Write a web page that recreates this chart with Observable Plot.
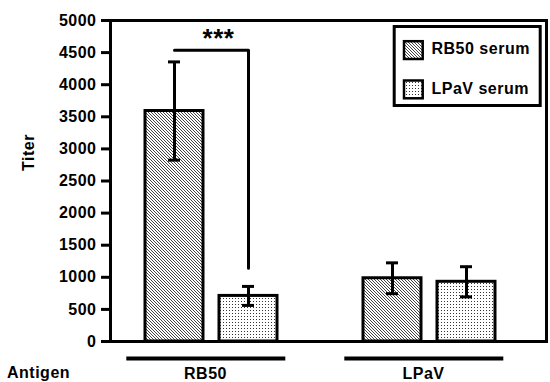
<!DOCTYPE html>
<html><head><meta charset="utf-8">
<script src="https://cdn.jsdelivr.net/npm/d3@7"></script>
<script src="https://cdn.jsdelivr.net/npm/@observablehq/plot@0.6"></script>
<style>
html,body{margin:0;padding:0;background:#fff;}
#wrap{position:relative;width:550px;height:382px;}
#wrap svg{display:block;}
#legend{position:absolute;left:0;top:0;pointer-events:none;}
</style></head><body><div id="wrap"></div>
<script>
// ---- data ----
const antigens = ["RB50", "LPaV"];
const sera = ["RB50 serum", "LPaV serum"];
const titerRB50Serum = [3590, 985];   // per antigen
const titerLPaVSerum = [710, 930];
const errRB50Serum = [765, 240];
const errLPaVSerum = [148, 235];
const yTicks = [0, 500, 1000, 1500, 2000, 2500, 3000, 3500, 4000, 4500, 5000];
const significance = "***";
const bracketTop = 4535;
const bracketBottom = 1140;
const yLabel = "Titer";
const xLabel = "Antigen";

const rows = [];
antigens.forEach((a, i) => {
  rows.push({antigen: a, serum: sera[0], titer: titerRB50Serum[i], err: errRB50Serum[i]});
  rows.push({antigen: a, serum: sera[1], titer: titerLPaVSerum[i], err: errLPaVSerum[i]});
});
const bracket = [
  {antigen: antigens[0], serum: sera[0], titer: bracketTop},
  {antigen: antigens[0], serum: sera[1], titer: bracketTop},
  {antigen: antigens[0], serum: sera[1], titer: bracketBottom}
];

const chart = Plot.plot({
  width: 550, height: 382,
  marginLeft: 110, marginRight: 4, marginTop: 20, marginBottom: 41,
  style: {fontFamily: "'Liberation Sans', Arial, sans-serif", fontWeight: "bold", fontSize: "16px",
          letterSpacing: "0.5px", color: "#000", background: "#fff", overflow: "visible"},
  y: {domain: [0, 5000]},
  fx: {domain: antigens, paddingInner: 0, paddingOuter: 0, align: 0},
  x: {domain: sera, paddingInner: 0.2225, paddingOuter: 0.5724, align: 0.41, axis: null},
  color: {domain: sera, range: ["url(#hatch)", "url(#dots)"]},
  marks: [
    Plot.barY(rows, {fx: "antigen", x: "serum", y: "titer", fill: "serum", stroke: "#000", strokeWidth: 3}),
    Plot.ruleX(rows, {fx: "antigen", x: "serum", y1: d => d.titer - d.err, y2: d => d.titer + d.err, stroke: "#000", strokeWidth: 3}),
    Plot.tickY(rows, {fx: "antigen", x: "serum", y: d => d.titer + d.err, stroke: "#000", strokeWidth: 3, insetLeft: 23, insetRight: 23}),
    Plot.tickY(rows, {fx: "antigen", x: "serum", y: d => d.titer - d.err, stroke: "#000", strokeWidth: 3, insetLeft: 23, insetRight: 23}),
    Plot.line(bracket, {fx: "antigen", x: "serum", y: "titer", stroke: "#000", strokeWidth: 3}),
    Plot.text([significance], {fx: () => antigens[0], frameAnchor: "top", lineAnchor: "top", dy: 8, dx: -1, fontSize: 26, letterSpacing: "2px"}),
    Plot.ruleY(antigens, {fx: d => d, y: () => 0, dy: 17, stroke: "#000", strokeWidth: 4, insetLeft: 16.3, insetRight: 42.7}),
    Plot.axisFx({anchor: "bottom", tickSize: 0, tickPadding: 26, label: null, fontSize: 16, dx: -14}),
    Plot.axisY({ticks: yTicks, tickFormat: d => String(d), tickSize: 9, tickPadding: 5, strokeWidth: 3, label: null, fontSize: 16}),
    Plot.frame({facet: "super", stroke: "#000", strokeWidth: 3})
  ]
});

// patterns
const defs = d3.select(chart).insert("defs", ":first-child");
const hatch = defs.append("pattern").attr("id", "hatch").attr("patternUnits", "userSpaceOnUse")
  .attr("width", 3).attr("height", 3);
hatch.append("rect").attr("width", 3).attr("height", 3).attr("fill", "#fff");
hatch.append("path").attr("d", "M-1,-1L4,4M-1,2L1,4M2,-1L4,1").attr("stroke", "#222").attr("stroke-width", 0.85);
const dots = defs.append("pattern").attr("id", "dots").attr("patternUnits", "userSpaceOnUse")
  .attr("width", 3).attr("height", 3);
dots.append("rect").attr("width", 3).attr("height", 3).attr("fill", "#fff");
dots.append("rect").attr("x", 1).attr("y", 1).attr("width", 1).attr("height", 1).attr("fill", "#333");

const wrap = document.getElementById("wrap");
wrap.appendChild(chart);

// legend and outer labels overlay
const fills = ["url(#hatch)", "url(#dots)"];
const lg = d3.select(wrap).append("svg").attr("id", "legend").attr("width", 550).attr("height", 382)
  .style("font-family", "'Liberation Sans', Arial, sans-serif").style("font-weight", "bold")
  .style("font-size", "16px").style("letter-spacing", "0.5px");
lg.append("rect").attr("x", 394.2).attr("y", 26.5).attr("width", 146).attr("height", 79)
  .attr("fill", "#fff").attr("stroke", "#000").attr("stroke-width", 3);
sera.forEach((s, i) => {
  const y0 = 41.2 + i * 39.3;
  lg.append("rect").attr("x", 404).attr("y", y0).attr("width", 18.7).attr("height", 17.8)
    .attr("fill", fills[i]).attr("stroke", "#000").attr("stroke-width", 2.5);
  lg.append("text").attr("x", 431.5).attr("y", 53.5 + i * 40.5).text(s);
});
lg.append("text").attr("transform", "translate(33.5,152.5) rotate(-90)").attr("text-anchor", "middle").text(yLabel);
lg.append("text").attr("x", 7).attr("y", 377.5).text(xLabel);
</script></body></html>
